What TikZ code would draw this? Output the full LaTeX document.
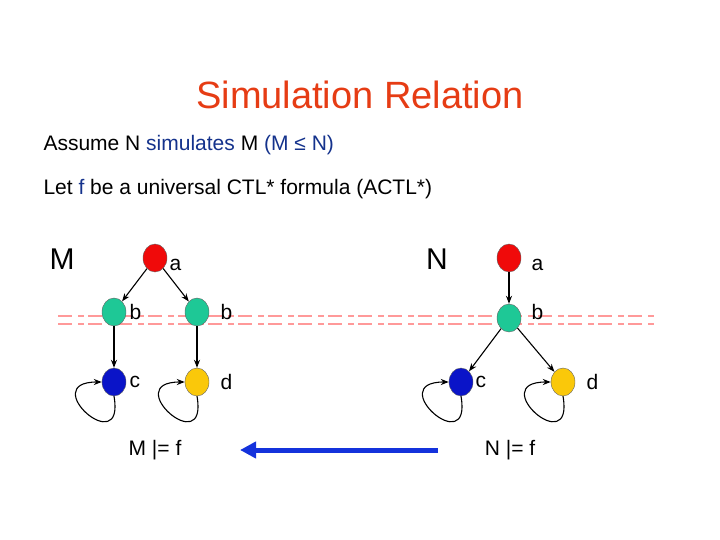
\documentclass[tikz,border=0pt]{standalone}
\usepackage{fontspec}
\setmainfont{Liberation Sans}
\usetikzlibrary{arrows.meta,shapes.geometric}
\definecolor{tblue}{RGB}{20,50,140}
\definecolor{tred}{RGB}{230,60,20}
\definecolor{sg}{RGB}{30,200,150}
\definecolor{sb}{RGB}{10,20,200}
\definecolor{sy}{RGB}{250,200,10}
\definecolor{sr}{RGB}{240,10,10}
\definecolor{aw}{RGB}{20,50,220}
\tikzset{st/.style={ellipse,draw=black!60,minimum width=24pt,minimum height=28pt,inner sep=0pt},
 lab/.style={font=\fontsize{21pt}{24pt}\selectfont,anchor=west},
 txt/.style={font=\fontsize{21pt}{25pt}\selectfont},
 ed/.style={-{Stealth[length=8pt,width=6pt]},line width=1.1pt},
 lp/.style={-{Stealth[length=8pt,width=6pt]},line width=1.1pt,out=-80,in=180,looseness=9}}
\begin{document}
\begin{tikzpicture}[x=1pt,y=-1pt]
\useasboundingbox (0,0) rectangle (720,540);
\node[text=tred,font=\fontsize{38pt}{44pt}\selectfont] (t) at (360,95) {Simulation Relation};
\node[txt,anchor=west] (l1) at (40,145) {Assume N \textcolor{tblue}{simulates} M \textcolor{tblue}{(M ≤ N)}};
\node[txt,anchor=west] (l2) at (40,189) {Let \textcolor{tblue}{f} be a universal CTL* formula (ACTL*)};
\node[font=\fontsize{30pt}{34pt}\selectfont] (M) at (62,259) {M};
\node[font=\fontsize{30pt}{34pt}\selectfont] (N) at (437,259) {N};
\foreach \y in {316,324}{\draw[red!40,line width=2.5pt,dash pattern=on 14pt off 6pt on 6pt off 4pt] (58,\y) -- (655,\y);}
\node[st,fill=sr] (ma) at (155,258) {};
\node[st,fill=sg] (mb1) at (114,312) {};
\node[st,fill=sg] (mb2) at (197,312) {};
\node[st,fill=sb] (mc) at (114,382) {};
\node[st,fill=sy] (md) at (197,382) {};
\node[st,fill=sr] (na) at (509,258) {};
\node[st,fill=sg] (nb) at (509,318) {};
\node[st,fill=sb] (nc) at (461,382) {};
\node[st,fill=sy] (nd) at (563,382) {};
\node[lab] at (166,265) {a};
\node[lab] at (126,312) {b};
\node[lab] at (217,312) {b};
\node[lab] at (126,382) {c};
\node[lab] at (217,382) {d};
\node[lab] at (528,265) {a};
\node[lab] at (528,312) {b};
\node[lab] at (472,382) {c};
\node[lab] at (583,382) {d};
\draw[ed] (ma) -- (mb1);
\draw[ed] (ma) -- (mb2);
\draw[ed] (mb1) -- (mc);
\draw[ed] (mb2) -- (md);
\draw[ed] (na) -- (nb);
\draw[ed] (nb) -- (nc);
\draw[ed] (nb) -- (nd);
\foreach \n in {mc,md,nc,nd}{\draw[lp] (\n.south) to (\n.west);}
\node[txt] (mf) at (155,450) {M |= f};
\node[txt] (nf) at (510,450) {N |= f};
\coordinate (as) at (438,450);
\coordinate (ae) at (240,450);
\draw[aw,line width=5pt,-{Triangle[length=16pt,width=16pt]}] (as) -- (ae);
\end{tikzpicture}
\end{document}
